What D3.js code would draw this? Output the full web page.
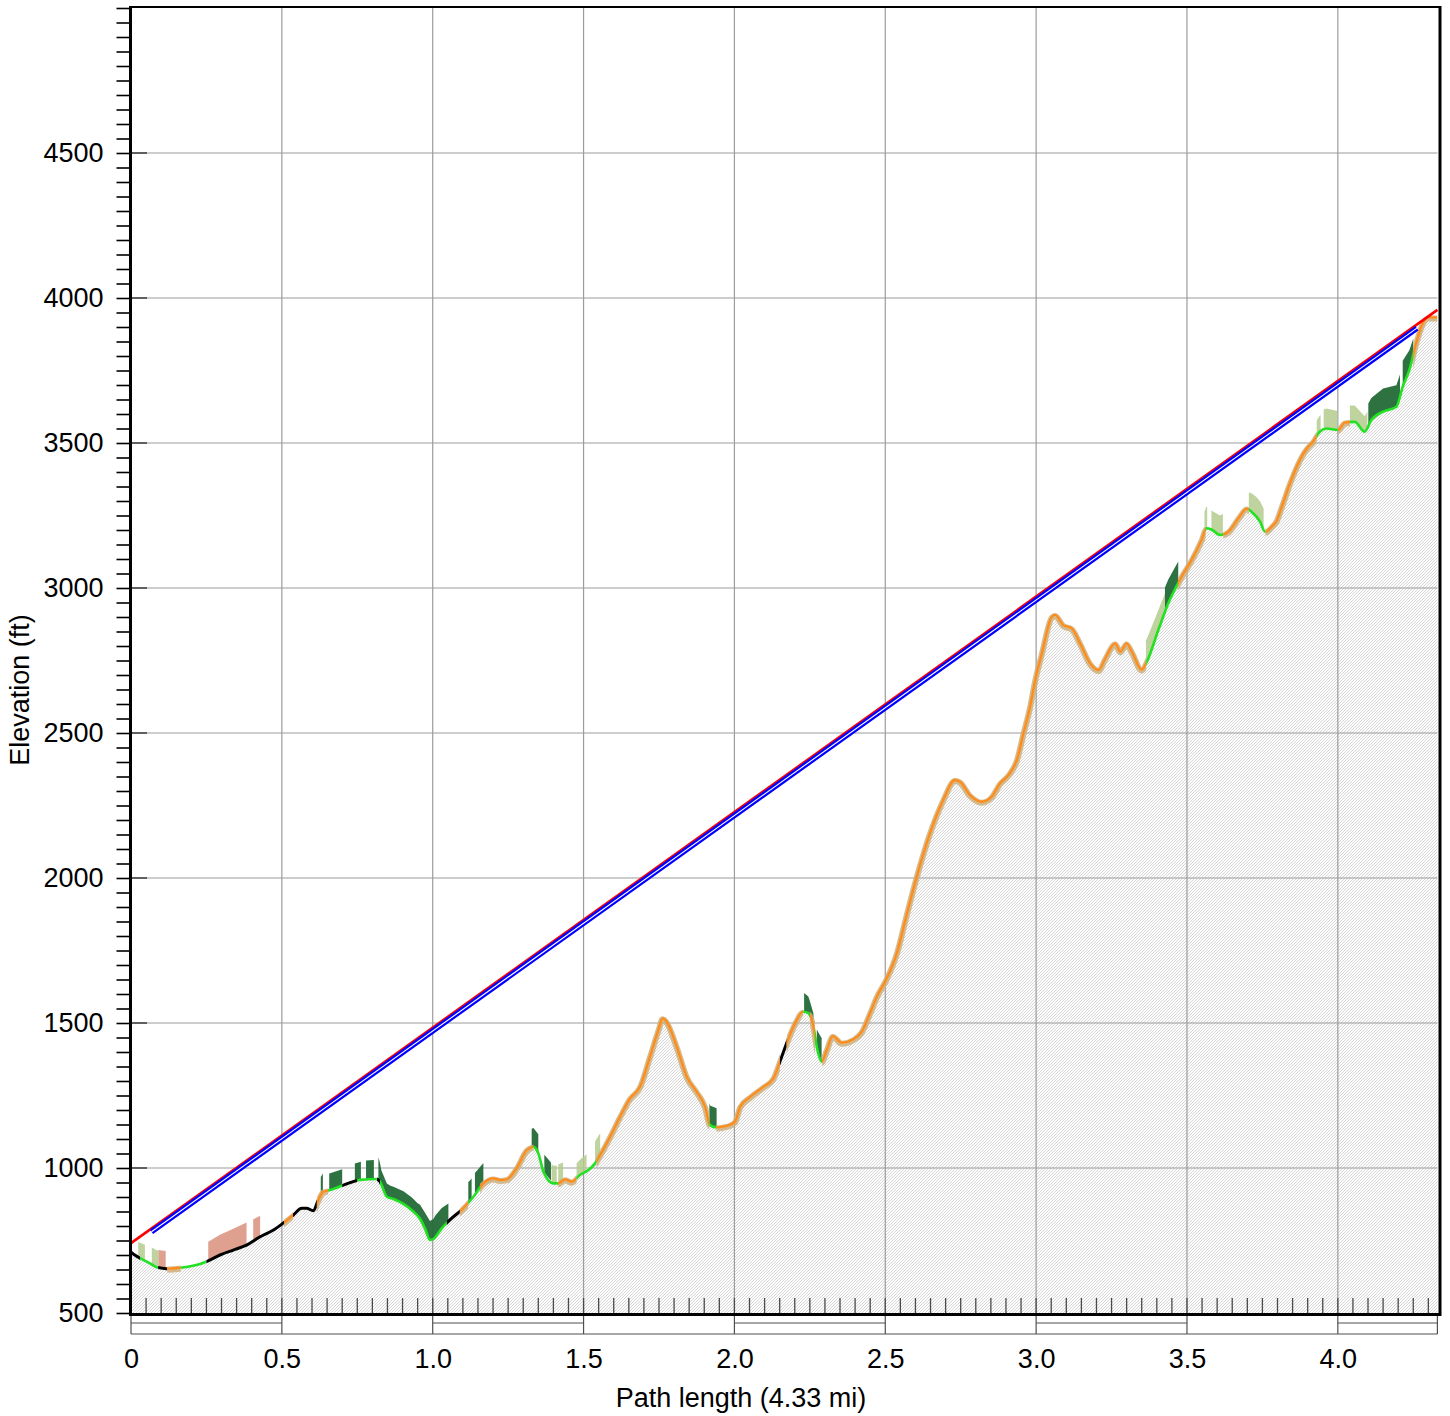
<!DOCTYPE html>
<html>
<head>
<meta charset="utf-8">
<script src="https://cdn.jsdelivr.net/npm/d3@7"></script>
<style>
  body { margin: 0; background: #fff; }
  text { font-family: "Liberation Sans", Arial, sans-serif; }
</style>
</head>
<body>
<svg id="chart" width="1450" height="1416"></svg>
<script>
// Terrain profile: [distance (mi), elevation (ft)]
const profile = [
  [0.000,710],[0.015,698],[0.030,689],[0.063,671],[0.085,658],[0.118,653],[0.162,656],
  [0.229,669],[0.256,680],[0.295,700],[0.339,717],[0.383,734],[0.428,763],[0.472,786],
  [0.503,809],[0.538,838],[0.566,861],[0.582,861],[0.604,853],[0.621,890],[0.637,918],
  [0.660,924],[0.704,941],[0.759,959],[0.814,962],[0.825,953],[0.848,901],[0.870,893],
  [0.903,876],[0.930,855],[0.958,825],[0.975,790],[0.991,752],[1.002,755],[1.030,792],
  [1.057,821],[1.101,861],[1.135,901],[1.168,947],[1.201,964],[1.223,959],[1.245,961],
  [1.278,999],[1.312,1062],[1.334,1073],[1.350,1051],[1.367,987],[1.400,947],[1.416,947],
  [1.439,961],[1.461,953],[1.488,976],[1.516,993],[1.538,1016],[1.555,1045],[1.588,1108],
  [1.621,1177],[1.654,1240],[1.687,1280],[1.720,1384],[1.748,1476],[1.762,1516],[1.775,1505],
  [1.809,1418],[1.842,1315],[1.875,1263],[1.903,1211],[1.919,1148],[1.941,1140],[1.974,1145],
  [2.002,1160],[2.019,1211],[2.053,1246],[2.096,1280],[2.129,1309],[2.151,1367],[2.173,1430],
  [2.201,1499],[2.228,1539],[2.245,1534],[2.262,1488],[2.273,1418],[2.289,1367],[2.306,1407],
  [2.326,1455],[2.356,1432],[2.394,1444],[2.422,1470],[2.449,1533],[2.472,1591],[2.505,1654],
  [2.538,1740],[2.570,1870],[2.604,2004],[2.648,2154],[2.692,2269],[2.731,2338],[2.748,2332],
  [2.781,2286],[2.820,2263],[2.853,2281],[2.880,2326],[2.908,2355],[2.936,2407],[2.958,2499],
  [2.980,2591],[2.997,2683],[3.019,2775],[3.052,2901],[3.063,2907],[3.090,2872],[3.118,2861],
  [3.146,2809],[3.179,2740],[3.207,2717],[3.229,2757],[3.262,2809],[3.279,2781],[3.300,2809],
  [3.317,2781],[3.350,2719],[3.367,2746],[3.405,2855],[3.438,2947],[3.482,3039],[3.515,3096],
  [3.548,3165],[3.565,3206],[3.581,3202],[3.609,3183],[3.637,3194],[3.670,3240],[3.698,3274],
  [3.714,3263],[3.742,3229],[3.759,3194],[3.781,3212],[3.798,3234],[3.814,3280],[3.842,3363],
  [3.880,3453],[3.897,3481],[3.918,3505],[3.940,3539],[3.962,3550],[4.000,3545],[4.023,3570],
  [4.056,3573],[4.089,3539],[4.111,3579],[4.150,3608],[4.194,3625],[4.215,3694],[4.237,3752],
  [4.259,3843],[4.281,3912],[4.302,3933],[4.330,3933]
];

// Ground cover classes along the path: [from (mi), to (mi), class]
const groundSegments = [
  [0,0.03,"bare"],[0.03,0.09,"grass"],[0.09,0.12,"bare"],[0.12,0.165,"open"],
  [0.165,0.25,"grass"],[0.25,0.507,"bare"],[0.507,0.537,"open"],[0.537,0.616,"bare"],
  [0.616,0.653,"open"],[0.653,0.70,"grass"],[0.70,0.75,"bare"],[0.75,0.815,"grass"],
  [0.815,0.825,"bare"],[0.825,1.047,"grass"],[1.047,1.09,"bare"],[1.09,1.118,"open"],
  [1.118,1.157,"grass"],[1.157,1.334,"open"],[1.334,1.416,"grass"],[1.416,1.477,"open"],
  [1.477,1.543,"grass"],[1.543,1.917,"open"],[1.917,1.94,"grass"],[1.94,2.151,"open"],
  [2.151,2.173,"bare"],[2.173,2.228,"open"],[2.228,2.25,"grass"],[2.25,2.267,"open"],
  [2.267,2.29,"grass"],[2.29,3.365,"open"],[3.365,3.47,"grass"],[3.47,3.562,"open"],
  [3.562,3.62,"grass"],[3.62,3.705,"open"],[3.705,3.76,"grass"],[3.76,3.93,"open"],
  [3.93,4.0,"grass"],[4.0,4.04,"open"],[4.04,4.25,"grass"],[4.25,4.33,"open"]
];

// Clutter above ground: class and [distance (mi), height above ground (ft)] outline
const clutter = [
  {kind:"shrub",  top:[[0.024,52],[0.046,55]]},
  {kind:"shrub",  top:[[0.069,58],[0.091,58]]},
  {kind:"built",  top:[[0.091,60],[0.115,60]]},
  {kind:"built",  top:[[0.256,66],[0.383,78]]},
  {kind:"built",  top:[[0.405,75],[0.428,72]]},
  {kind:"forest", top:[[0.629,65],[0.636,65]]},
  {kind:"forest", top:[[0.657,58],[0.700,56]]},
  {kind:"forest", top:[[0.742,62],[0.762,62]]},
  {kind:"forest", top:[[0.779,66],[0.805,66]]},
  {kind:"forest", top:[[0.820,80],[0.830,50],[0.860,42],[0.950,45],[0.975,55],[0.990,65],[1.010,72],[1.030,70],[1.052,62]]},
  {kind:"forest", top:[[1.118,70],[1.129,70]]},
  {kind:"forest", top:[[1.140,75],[1.168,70]]},
  {kind:"forest", top:[[1.328,65],[1.350,65]]},
  {kind:"forest", top:[[1.370,62],[1.392,62]]},
  {kind:"shrub",  top:[[1.394,60],[1.411,62]]},
  {kind:"shrub",  top:[[1.416,65],[1.432,62]]},
  {kind:"shrub",  top:[[1.477,50],[1.510,58]]},
  {kind:"shrub",  top:[[1.538,75],[1.555,75]]},
  {kind:"forest", top:[[1.917,68],[1.941,66]]},
  {kind:"forest", top:[[2.231,65],[2.250,55],[2.262,45]]},
  {kind:"forest", top:[[2.273,60],[2.289,80]]},
  {kind:"shrub",  top:[[3.364,80],[3.400,70],[3.427,65]]},
  {kind:"forest", top:[[3.427,85],[3.471,75]]},
  {kind:"shrub",  top:[[3.558,75],[3.567,75]]},
  {kind:"shrub",  top:[[3.581,65],[3.619,68]]},
  {kind:"shrub",  top:[[3.705,60],[3.730,70],[3.754,70]]},
  {kind:"shrub",  top:[[3.930,55],[3.943,55]]},
  {kind:"shrub",  top:[[3.953,70],[3.998,65]]},
  {kind:"shrub",  top:[[4.040,58],[4.098,52]]},
  {kind:"forest", top:[[4.101,75],[4.150,80],[4.206,72]]},
  {kind:"forest", top:[[4.215,90],[4.250,55]]}
];

// Straight paths between the two ends: [distance (mi), elevation (ft)]
const sightLine = [[0, 741], [4.33, 3959]];
const beamLine  = [[0.068, 780], [4.262, 3896]];

const yMajorTicks = [500, 1000, 1500, 2000, 2500, 3000, 3500, 4000, 4500];
const yMinorTicks = d3.range(500, 5001, 50);
const xTicks = [0, 0.5, 1.0, 1.5, 2.0, 2.5, 3.0, 3.5, 4.0];
const xTickLabels = ["0", "0.5", "1.0", "1.5", "2.0", "2.5", "3.0", "3.5", "4.0"];
const xMinorTicks = d3.range(1, 87).map(i => +(i * 0.05).toFixed(2));
const xTitle = "Path length (4.33 mi)";
const yTitle = "Elevation (ft)";

const FONT = 27;
const svg = d3.select("#chart");
const x = d3.scaleLinear().domain([0, 4.33]).range([131, 1437.4]);
const y = d3.scaleLinear().domain([500, 5000]).range([1313, 8]);
const plotLeft = x(0), plotRight = x(4.33), plotTop = y(5000), plotBottom = y(500);

const defs = svg.append("defs");
const pat = defs.append("pattern").attr("id", "hatch")
  .attr("patternUnits", "userSpaceOnUse").attr("width", 3).attr("height", 3);
pat.append("rect").attr("width", 3).attr("height", 3).attr("fill", "#fdfdfd");
pat.append("path").attr("d", "M-1,1 L1,-1 M0,3 L3,0 M2,4 L4,2")
  .attr("stroke", "#cbcbcb").attr("stroke-width", 0.8);

function profileAt(d) {
  const i = d3.bisector(p => p[0]).right(profile, d);
  if (i <= 0) return profile[0][1];
  if (i >= profile.length) return profile[profile.length - 1][1];
  const a = profile[i - 1], b = profile[i];
  return a[1] + (d - a[0]) / (b[0] - a[0]) * (b[1] - a[1]);
}
function heightAt(outline, d) {
  if (d <= outline[0][0]) return outline[0][1];
  for (let i = 1; i < outline.length; i++) {
    if (d <= outline[i][0]) {
      const a = outline[i - 1], b = outline[i];
      return a[1] + (d - a[0]) / (b[0] - a[0]) * (b[1] - a[1]);
    }
  }
  return outline[outline.length - 1][1];
}

// Terrain fill
const area = d3.area().x(d => x(d[0])).y0(plotBottom).y1(d => y(d[1])).curve(d3.curveMonotoneX);
svg.append("path").datum(profile).attr("d", area).attr("fill", "url(#hatch)");

// Grid
const grid = svg.append("g").attr("stroke", "#9c9c9c").attr("stroke-width", 1.2);
grid.selectAll("line.v").data(xTicks.filter(v => v > 0)).join("line").attr("class", "v")
  .attr("x1", d => x(d)).attr("x2", d => x(d)).attr("y1", plotTop).attr("y2", plotBottom);
grid.selectAll("line.h").data(yMajorTicks.filter(v => v > 500)).join("line").attr("class", "h")
  .attr("x1", plotLeft).attr("x2", plotRight).attr("y1", d => y(d)).attr("y2", d => y(d));

// Distance ticks along the floor
svg.append("g").attr("stroke", "#4a4a4a").attr("stroke-width", 1.3)
  .selectAll("line").data(xMinorTicks).join("line")
  .attr("x1", d => x(d)).attr("x2", d => x(d)).attr("y1", plotBottom - 15).attr("y2", plotBottom);

// Clutter polygons
const clutterFill = {forest: "#236a38", shrub: "#b3cb8d", built: "#d98f7b"};
const clutterOpacity = {forest: 0.95, shrub: 0.85, built: 0.85};
const poly = d3.line().x(d => x(d[0])).y(d => y(d[1]));
clutter.forEach(c => {
  const d0 = c.top[0][0], d1 = c.top[c.top.length - 1][0];
  const ds = Array.from(new Set(c.top.map(p => p[0])
    .concat(profile.map(p => p[0]).filter(v => v > d0 && v < d1)))).sort((a, b) => a - b);
  const upper = ds.map(d => [d, profileAt(d) + heightAt(c.top, d)]);
  const lower = ds.slice().reverse().map(d => [d, profileAt(d)]);
  svg.append("path").attr("d", poly(upper.concat(lower)) + "Z")
    .attr("fill", clutterFill[c.kind]).attr("fill-opacity", clutterOpacity[c.kind]);
});

// Profile line, coloured by ground class
const line = d3.line().x(d => x(d[0])).y(d => y(d[1])).curve(d3.curveMonotoneX);
const profilePath = line(profile);
groundSegments.forEach((s, i) => {
  defs.append("clipPath").attr("id", "seg" + i).append("rect")
    .attr("x", x(s[0])).attr("y", 0).attr("width", x(s[1]) - x(s[0])).attr("height", 1416);
});
const strokeFor = {bare: "#000000", grass: "#22e022", open: "#ff8c1a"};
const widthFor = {bare: 3, grass: 2.6, open: 2.3};
groundSegments.forEach((s, i) => {
  if (s[2] === "open") {
    svg.append("path").attr("d", profilePath).attr("clip-path", `url(#seg${i})`)
      .attr("fill", "none").attr("stroke", "#cdb07c").attr("stroke-opacity", 0.85)
      .attr("stroke-width", 6).attr("transform", "translate(0,1)");
  }
});
groundSegments.forEach((s, i) => {
  svg.append("path").attr("d", profilePath).attr("clip-path", `url(#seg${i})`)
    .attr("fill", "none").attr("stroke", strokeFor[s[2]]).attr("stroke-width", widthFor[s[2]])
    .attr("stroke-linejoin", "round");
});

// Sight line and beam
const straight = d3.line().x(d => x(d[0])).y(d => y(d[1]));
svg.append("path").attr("d", straight(sightLine)).attr("stroke", "#ff0000")
  .attr("stroke-width", 2.6).attr("fill", "none");
svg.append("path").attr("d", straight(beamLine)).attr("stroke", "#0000ff")
  .attr("stroke-width", 5.5).attr("fill", "none");
svg.append("path").attr("d", straight(beamLine)).attr("stroke", "#ffffff")
  .attr("stroke-width", 1.1).attr("fill", "none");

// Scale bar under the floor
const band = svg.append("g").attr("stroke", "#505050").attr("stroke-width", 1.2).attr("fill", "none");
band.append("line").attr("x1", plotLeft).attr("x2", plotRight).attr("y1", plotBottom + 21).attr("y2", plotBottom + 21);
band.selectAll("line.vt").data(xTicks.concat([4.33])).join("line").attr("class", "vt")
  .attr("x1", d => x(d)).attr("x2", d => x(d)).attr("y1", plotBottom).attr("y2", plotBottom + 21);
band.selectAll("line.mid").data(xTicks.filter((d, i) => i % 2 === 0)).join("line").attr("class", "mid")
  .attr("x1", d => x(d)).attr("x2", d => x(Math.min(d + 0.5, 4.33)))
  .attr("y1", plotBottom + 10).attr("y2", plotBottom + 10);

// Frame
svg.append("line").attr("x1", plotLeft).attr("x2", 1441).attr("y1", plotTop - 1).attr("y2", plotTop - 1)
  .attr("stroke", "#000").attr("stroke-width", 2);
svg.append("line").attr("x1", 1440).attr("x2", 1440).attr("y1", plotTop - 2).attr("y2", plotBottom + 3)
  .attr("stroke", "#000").attr("stroke-width", 3);
svg.append("line").attr("x1", plotLeft - 1).attr("x2", 1441).attr("y1", plotBottom + 1.5).attr("y2", plotBottom + 1.5)
  .attr("stroke", "#000").attr("stroke-width", 3);

// Inner marks at major elevations
svg.append("g").attr("stroke", "#444").attr("stroke-width", 1.6)
  .selectAll("line").data(yMajorTicks.filter(v => v > 500)).join("line")
  .attr("x1", plotLeft).attr("x2", plotLeft + 16).attr("y1", d => y(d)).attr("y2", d => y(d));

// Elevation axis
const yAxis = d3.axisLeft(y).tickValues(yMinorTicks).tickSize(14).tickPadding(13)
  .tickFormat(d => yMajorTicks.includes(d) ? String(d) : "");
const gy = svg.append("g").attr("transform", `translate(${plotLeft - 0.5},0)`).call(yAxis);
gy.select(".domain").remove();
gy.selectAll(".tick line").attr("stroke", "#000").attr("stroke-width", 1.6);
gy.selectAll(".tick text").attr("font-size", FONT).attr("fill", "#000")
  .attr("font-family", "Liberation Sans, Arial, sans-serif");
svg.append("line").attr("x1", plotLeft - 0.5).attr("x2", plotLeft - 0.5).attr("y1", plotTop - 2).attr("y2", plotBottom + 3)
  .attr("stroke", "#000").attr("stroke-width", 3);

// Distance axis labels
const xAxis = d3.axisBottom(x).tickValues(xTicks).tickSize(0).tickPadding(36)
  .tickFormat((d, i) => xTickLabels[i]);
const gx = svg.append("g").attr("transform", `translate(0,${plotBottom})`).call(xAxis);
gx.select(".domain").remove();
gx.selectAll(".tick text").attr("font-size", FONT).attr("fill", "#000")
  .attr("font-family", "Liberation Sans, Arial, sans-serif");

// Axis titles
svg.append("text").attr("x", 741).attr("y", 1407)
  .attr("text-anchor", "middle").attr("font-size", FONT).text(xTitle);
svg.append("text").attr("transform", "translate(29,690) rotate(-90)")
  .attr("text-anchor", "middle").attr("font-size", FONT).text(yTitle);
</script>
</body>
</html>
